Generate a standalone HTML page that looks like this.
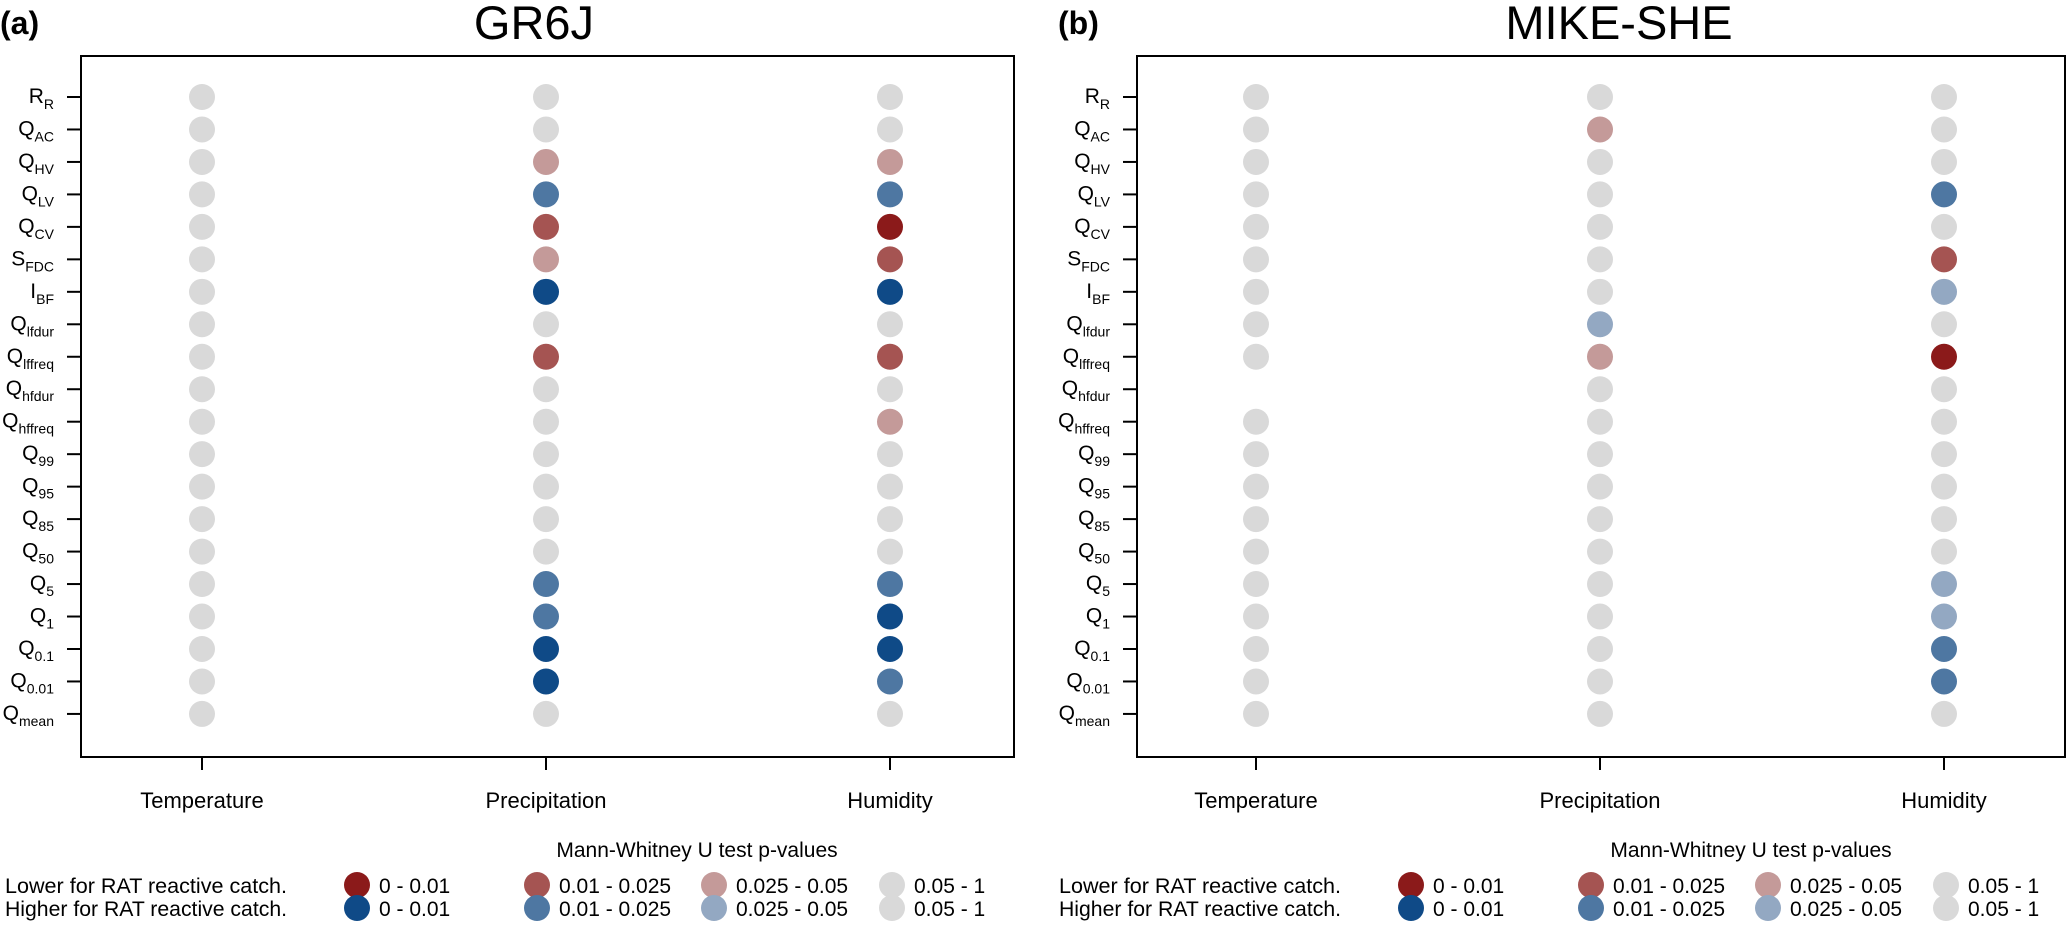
<!DOCTYPE html>
<html><head><meta charset="utf-8"><style>
html,body{margin:0;padding:0;background:#fff;}
svg{display:block;font-family:"Liberation Sans",Arial,sans-serif;}
</style></head><body>
<svg id="chart" width="2067" height="934" viewBox="0 0 2067 934" xmlns="http://www.w3.org/2000/svg"></svg>
<script>
const rowMain = ["R","Q","Q","Q","Q","S","I","Q","Q","Q","Q","Q","Q","Q","Q","Q","Q","Q","Q","Q"];
const rowSub = ["R","AC","HV","LV","CV","FDC","BF","lfdur","lffreq","hfdur","hffreq","99","95","85","50","5","1","0.1","0.01","mean"];
const categories = ["Temperature","Precipitation","Humidity"];
// codes: 0 = 0.05-1, r3 = lower 0-0.01, r2 = lower 0.01-0.025, r1 = lower 0.025-0.05, b3/b2/b1 higher; null = missing
const gr6jTemperature = [0,0,0,0,0,0,0,0,0,0,0,0,0,0,0,0,0,0,0,0];
const gr6jPrecipitation = [0,0,"r1","b2","r2","r1","b3",0,"r2",0,0,0,0,0,0,"b2","b2","b3","b3",0];
const gr6jHumidity = [0,0,"r1","b2","r3","r2","b3",0,"r2",0,"r1",0,0,0,0,"b2","b3","b3","b2",0];
const mikeTemperature = [0,0,0,0,0,0,0,0,0,null,0,0,0,0,0,0,0,0,0,0];
const mikePrecipitation = [0,"r1",0,0,0,0,0,"b1","r1",0,0,0,0,0,0,0,0,0,0,0];
const mikeHumidity = [0,0,0,"b2",0,"r2","b1",0,"r3",0,0,0,0,0,0,"b1","b1","b2","b2",0];
const colors = {0:"#d9d9d9",r3:"#8b1a1a",r2:"#a55452",r1:"#c49a99",b3:"#0f4a87",b2:"#4e77a2",b1:"#93a8c2"};
const legendLabels = ["0 - 0.01","0.01 - 0.025","0.025 - 0.05","0.05 - 1"];

const NS="http://www.w3.org/2000/svg";
const svg=document.getElementById('chart');
function mk(tag,attrs,parent){const e=document.createElementNS(NS,tag);for(const k in attrs)e.setAttribute(k,attrs[k]);(parent||svg).appendChild(e);return e;}

function panel(p){
  const g=mk('g',{});
  
  
  const yScale=i=>97+i*32.47;
  const xScale=j=>p.cx0+j*344;
  const box=mk('rect',{x:p.bx,y:56,width:p.bw,height:701,fill:'none',stroke:'#000','stroke-width':2},g);
  
  
  const t=mk('text',{x:p.tx,y:39,'font-size':47,'text-anchor':'middle'},g);
  t.textContent=p.title;
  
  
  const lt=mk('text',{x:p.lx,y:34,'font-size':32,'font-weight':'bold'},g);
  lt.textContent=p.letter;
  
  
  for(let i=0;i<rowMain.length;i++){
    const y=yScale(i);
    const tk=mk('line',{x1:p.bx-14,x2:p.bx,y1:y,y2:y,stroke:'#000','stroke-width':2},g);
    
    
    const lb=mk('text',{x:p.bx-27,y:y+6,'font-size':21,'text-anchor':'end'},g);
    
    
    const a=mk('tspan',{},lb);a.textContent=rowMain[i];
    const b=mk('tspan',{'font-size':14,dy:6},lb);b.textContent=rowSub[i];
  }
  categories.forEach((c,j)=>{
    const x=xScale(j);
    const tk=mk('line',{x1:x,x2:x,y1:757,y2:770,stroke:'#000','stroke-width':2},g);
    
    
    const tl=mk('text',{x:x,y:808,'font-size':22,'text-anchor':'middle'},g);
    tl.textContent=c;
    
    
    p.series[j].forEach((v,i)=>{
      if(v===null)return;
      const d=mk('circle',{cx:x,cy:yScale(i),r:13,fill:colors[v]},g);
      
      
    });
  });
  // legend
  const o=p.off;
  const lh=mk('text',{x:o+697,y:857,'font-size':21,'text-anchor':'middle'},g);
  lh.textContent="Mann-Whitney U test p-values";
  
  
  const rowsY=[885,908];
  const rowLab=["Lower for RAT reactive catch.","Higher for RAT reactive catch."];
  const keys=[["r3","r2","r1",0],["b3","b2","b1",0]];
  const dotX=[357,537,714,892];
  rowsY.forEach((y,r)=>{
    const tx=mk('text',{x:o+5,y:y+8,'font-size':21,textLength:282,lengthAdjust:'spacingAndGlyphs'},g);
    tx.textContent=rowLab[r];
    
    
    dotX.forEach((dx,k)=>{
      const c=mk('circle',{cx:o+dx,cy:y,r:13,fill:colors[keys[r][k]]},g);
      
      
      const lt2=mk('text',{x:o+dx+22,y:y+8,'font-size':21},g);
      lt2.textContent=legendLabels[k];
      
      
    });
  });
}
panel({name:'panel-gr6j',bx:81,bw:933,cx0:202,tx:534,title:'GR6J',lx:0,letter:'(a)',off:0,series:[gr6jTemperature,gr6jPrecipitation,gr6jHumidity]});
panel({name:'panel-mike-she',bx:1137,bw:928,cx0:1256,tx:1619,title:'MIKE-SHE',lx:1058,letter:'(b)',off:1054,series:[mikeTemperature,mikePrecipitation,mikeHumidity]});
</script>
</body></html>
